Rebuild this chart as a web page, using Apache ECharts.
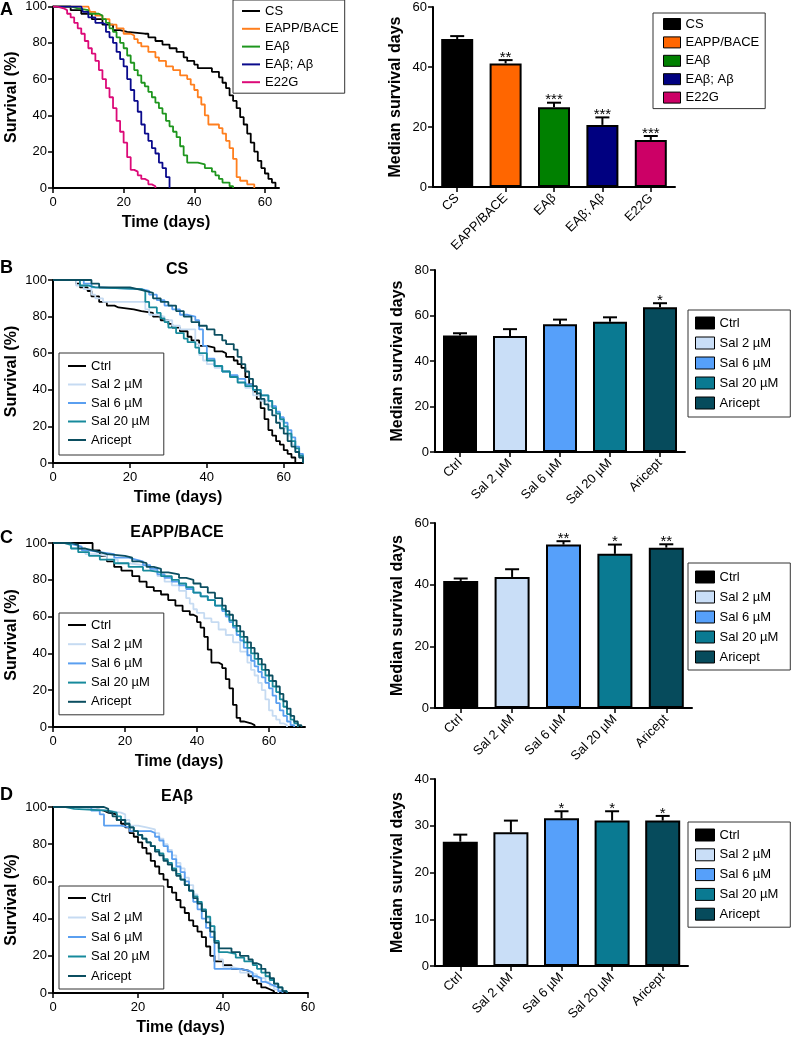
<!DOCTYPE html>
<html><head><meta charset="utf-8">
<script src="https://cdn.jsdelivr.net/npm/echarts@6/dist/echarts.min.js"></script>
<style>html,body{margin:0;padding:0;background:#fff}#c{width:792px;height:1039px}</style>
</head><body><div id="c"></div>
<script>
// ---------- Panel A : survival curves (day, % survival) ----------
const survA_names = ['CS','EAPP/BACE','EAβ','EAβ; Aβ','E22G'];
const survA_CS = [[0,100],[5,98],[8,96],[11,93],[14,90],[17,87],[19,86],[21,85],[26,85],[27,83],[29,81],[31,79],[33,77],[35,75],[37,72],[38,70],[40,68],[41,66],[44,66],[45,64],[47,61],[48,58],[49,55],[50,51],[51,48],[52,44],[53,39],[54,35],[55,30],[56,25],[57,20],[58,15],[59,11],[60,8],[61,5],[62,3],[63,0]];
const survA_EAPP = [[0,100],[10,100],[10.5,97],[12,95],[14,93],[16,90],[18,88],[20,85],[22,84],[23,82],[24,80],[25,78],[27,75],[29,72],[30,70],[32,67],[34,65],[36,62],[38,60],[39,57],[40,54],[41,50],[42,46],[43,40],[44,35],[47,33],[48,30],[49,26],[50,22],[51,16],[52,6],[53,4],[55,2],[57,0]];
const survA_EAb = [[0,100],[5,99],[7,98],[10,96],[13,95],[14,93],[15,91],[16,88],[17,86],[18,83],[19,80],[20,77],[21,73],[22,69],[23,65],[24,62],[25,58],[26,56],[27,53],[28,50],[29,47],[30,44],[31,41],[32,37],[33,34],[34,31],[35,28],[36,23],[37,18],[38,14],[41,13],[43,11],[45,9],[46,7],[47,5],[48,3],[50,1],[51,0]];
const survA_EAbAb = [[0,100],[8,100],[8.5,97],[10,94],[12,91],[14,90],[15,86],[16,83],[17,80],[18,75],[19,71],[20,67],[21,60],[22,54],[23,48],[24,42],[25,35],[26,30],[27,26],[28,22],[29,19],[30,14],[31,11],[32,6],[33,0]];
const survA_E22G = [[0,100],[1,99],[3,98],[4,96],[5,94],[6,91],[7,88],[8,85],[9,81],[10,77],[11,74],[12,70],[13,65],[14,60],[15,55],[16,50],[17,44],[18,37],[19,31],[20,25],[21,17],[22,10],[23,9],[24,7],[25,5],[26,4],[27,2],[28,1],[29,0]];

// ---------- Panel A : median survival bars ----------
const barA_labels = ['CS','EAPP/BACE','EAβ','EAβ; Aβ','E22G'];
const barA_median = [49.3,41.2,26.6,20.7,15.7];
const barA_err = [1.0,1.1,1.5,2.5,1.3];
const barA_stars = ['','**','***','***','***'];

// ---------- Treatment groups (panels B-D) ----------
const trt_names = ['Ctrl','Sal 2 µM','Sal 6 µM','Sal 20 µM','Aricept'];

// Panel B : CS
const survB_Ctrl = [[0,100],[5,100],[6,98],[7,96],[9,94],[10,91],[12,88],[14,86],[16,85],[17,84],[21,83],[23,82],[26,80],[28,78],[30,76],[31,74],[33,72],[35,69],[36,67],[38,64],[40,63],[42,61],[44,60],[45,58],[47,56],[48,54],[49,52],[50,47],[51,43],[52,39],[53,35],[54,30],[55,24],[56,18],[57,15],[58,12],[59,10],[60,7],[61,5],[62,3],[63,0]];
const survB_S2 = [[0,100],[5,100],[6,97],[8,95],[10,92],[11,90],[13,88],[23,88],[24,84],[25,81],[27,80],[29,78],[31,75],[33,73],[36,73],[37,65],[38,59],[39,56],[40,54],[42,52],[44,50],[46,47],[48,44],[50,41],[52,37],[54,34],[56,31],[58,27],[59,23],[60,19],[61,15],[62,10],[63,6],[64,3],[65,0]];
const survB_S6 = [[0,100],[7,100],[8,98],[10,96],[12,95],[23,94],[25,92],[27,89],[29,86],[31,84],[33,81],[35,80],[37,78],[38,73],[39,64],[40,57],[42,53],[44,50],[46,48],[48,46],[50,43],[52,40],[54,37],[56,34],[57,31],[58,28],[59,25],[60,22],[61,18],[62,14],[63,9],[64,5],[65,0]];
const survB_S20 = [[0,100],[5,100],[7,97],[9,96],[11,95],[23,94],[24,88],[25,85],[27,82],[28,79],[29,77],[30,74],[32,71],[34,68],[35,66],[37,63],[38,60],[40,56],[42,53],[44,50],[46,47],[48,44],[50,42],[52,40],[54,37],[56,34],[57,30],[58,27],[59,24],[60,20],[61,16],[62,12],[63,8],[64,4],[65,0]];
const survB_Ari = [[0,100],[8,100],[10,98],[12,96],[20,95],[22,94],[24,93],[26,90],[28,88],[30,86],[32,83],[34,80],[36,77],[38,75],[40,73],[42,70],[44,67],[45,65],[47,62],[48,58],[49,54],[50,50],[51,46],[52,42],[53,38],[54,35],[55,32],[56,29],[57,26],[58,22],[59,19],[60,16],[61,12],[62,9],[63,6],[64,3],[65,0]];
const barB_median = [51.2,51.0,56.2,57.3,63.6];
const barB_err = [1.0,3.0,2.0,1.9,1.8];
const barB_stars = ['','','','','*'];

// Panel C : EAPP/BACE
const survC_Ctrl = [[0,100],[10,100],[11,96],[13,93],[15,90],[17,87],[19,85],[22,82],[24,79],[26,76],[28,74],[30,72],[32,69],[34,66],[36,63],[38,61],[39,60],[40,57],[41,54],[42,49],[43,42],[44,35],[46,34],[47,32],[48,26],[49,21],[50,12],[51,5],[52,3],[53,2],[55,1],[56,0]];
const survC_S2 = [[0,100],[3,99],[5,97],[7,96],[9,94],[12,93],[15,91],[18,89],[21,88],[25,87],[27,85],[29,82],[31,79],[33,77],[35,74],[37,70],[38,67],[39,64],[40,62],[42,59],[44,57],[46,53],[48,50],[50,46],[52,41],[54,35],[55,31],[56,28],[57,24],[58,20],[59,15],[60,9],[61,6],[62,4],[63,2],[64,1],[65,0]];
const survC_S6 = [[0,100],[4,99],[6,98],[8,96],[10,95],[13,94],[17,92],[21,91],[23,90],[25,88],[27,86],[29,83],[31,81],[33,79],[35,77],[37,75],[39,73],[41,71],[43,69],[45,66],[47,63],[48,60],[49,57],[50,54],[51,50],[52,47],[53,43],[54,39],[55,36],[56,33],[57,30],[58,27],[59,24],[60,21],[61,17],[62,13],[63,9],[64,6],[65,3],[66,1],[67,0]];
const survC_S20 = [[0,100],[3,99],[5,97],[7,95],[10,93],[13,91],[17,89],[21,87],[25,85],[27,84],[30,82],[33,80],[35,78],[37,76],[39,73],[41,71],[43,69],[45,66],[47,64],[48,61],[49,58],[50,55],[51,52],[52,49],[53,46],[54,43],[55,40],[56,37],[57,34],[58,31],[59,28],[60,25],[61,22],[62,19],[63,15],[64,11],[65,7],[66,4],[67,2],[68,0]];
const survC_Ari = [[0,100],[5,99],[7,97],[9,96],[11,95],[13,94],[15,93],[20,92],[22,90],[24,89],[26,87],[28,86],[30,84],[32,83],[35,81],[37,80],[39,78],[41,76],[43,73],[45,70],[47,66],[48,63],[49,61],[50,58],[51,55],[52,52],[53,49],[54,46],[55,43],[56,40],[57,37],[58,34],[59,31],[60,28],[61,25],[62,22],[63,18],[64,14],[65,10],[66,6],[67,3],[68,1],[69,0]];
const barC_median = [41.2,42.5,53.0,50.0,52.0];
const barC_err = [0.8,2.5,1.1,3.0,1.1];
const barC_stars = ['','','**','*','**'];

// Panel D : EAβ
const survD_Ctrl = [[0,100],[6,100],[8,99],[10,98],[12,97],[13,96],[15,93],[16,91],[17,89],[18,86],[19,84],[20,81],[21,78],[22,75],[23,71],[24,68],[25,64],[26,61],[27,57],[28,54],[29,50],[30,46],[31,43],[32,39],[33,36],[34,33],[35,30],[36,25],[37,20],[38,17],[40,15],[42,13],[44,12],[46,9],[47,7],[48,5],[49,3],[50,2],[51,1],[52,0]];
const survD_S2 = [[0,100],[5,100],[7,99],[10,98],[13,97],[16,96],[17,93],[18,90],[20,89],[22,88],[24,86],[25,83],[26,80],[27,77],[28,74],[29,70],[30,67],[31,62],[32,58],[33,53],[34,49],[35,44],[36,40],[37,36],[38,28],[39,18],[40,14],[42,13],[44,11],[46,10],[48,8],[50,6],[51,4],[52,2],[53,0]];
const survD_S6 = [[0,100],[8,100],[9,98],[11,96],[12,90],[16,89],[18,87],[23,86],[24,84],[25,82],[26,79],[27,76],[28,72],[29,68],[30,65],[31,60],[32,55],[33,49],[34,45],[35,40],[36,35],[37,30],[38,13],[44,12],[46,11],[47,9],[48,8],[49,6],[50,5],[51,4],[52,3],[53,1],[54,0]];
const survD_S20 = [[0,100],[3,99],[5,98],[13,97],[15,95],[16,93],[17,91],[18,89],[19,87],[20,85],[21,83],[22,81],[23,79],[24,77],[25,75],[26,72],[27,70],[28,67],[29,64],[30,61],[31,58],[32,55],[33,52],[34,49],[35,45],[36,41],[37,36],[38,28],[39,22],[41,21],[43,19],[45,17],[47,15],[48,13],[49,11],[50,9],[51,7],[52,5],[53,3],[54,1],[55,0]];
const survD_Ari = [[0,100],[10,100],[12,99],[13,97],[14,95],[15,93],[17,91],[18,89],[19,87],[20,85],[21,83],[22,81],[23,79],[24,76],[25,74],[26,71],[27,69],[28,66],[29,63],[30,61],[31,58],[32,55],[33,51],[34,48],[35,44],[36,38],[37,33],[38,27],[39,24],[42,22],[44,20],[46,18],[47,16],[48,15],[49,13],[50,11],[51,8],[52,5],[53,3],[54,1],[55,0]];
const barD_median = [26.6,28.6,31.6,31.1,31.1];
const barD_err = [1.5,2.5,1.5,2.0,1.0];
const barD_stars = ['','','*','*','*'];

// axis tick labels
const survX_ticks = [0,20,40,60];

// ---------- styles ----------
const FONT = "'Liberation Sans', Arial, Helvetica, sans-serif";
const colA_line = ['#000000','#ff7f1e','#1e961e','#0a0a8c','#dc0a78'];
const colA_bar  = ['#000000','#ff6600','#008000','#000080','#cc0066'];
const colT_line = ['#000000','#c6dbf2','#5a9ff0','#178a9c','#0b4e60'];
const colT_bar  = ['#000000','#c9def7','#56a0fa','#0a7a92','#064b5c'];

const grids = [
  {left:53, top:6, width:226, height:182},
  {left:433, top:7, width:242, height:180},
  {left:53, top:280, width:250, height:183},
  {left:435, top:270, width:250, height:182},
  {left:53, top:543, width:252, height:184},
  {left:435, top:523, width:257, height:185},
  {left:53, top:807, width:255, height:186},
  {left:435, top:779, width:253, height:187}
];

const xAxes = [], yAxes = [], series = [], legends = [];
const axisLine = {show:true, lineStyle:{color:'#000', width:2}};
const tickStyle = {show:true, length:5, lineStyle:{color:'#000', width:1.5}};
const lblStyle = {color:'#000', fontSize:13, fontFamily:FONT};
const nameStyle = {color:'#000', fontSize:16, fontWeight:'bold', fontFamily:FONT};

function survPanel(gi, prefix, xmax, ticks, names, curves, colors, leg) {
  xAxes.push({type:'value', gridIndex:gi, min:0, max:xmax, interval:20,
    axisLine, axisTick:Object.assign({customValues:ticks}, tickStyle),
    axisLabel:Object.assign({margin:8, customValues:ticks, showMaxLabel:true, showMinLabel:true}, lblStyle),
    splitLine:{show:false}, name:'Time (days)', nameLocation:'middle', nameGap:27, nameTextStyle:nameStyle});
  yAxes.push({type:'value', gridIndex:gi, min:0, max:100, interval:20,
    axisLine, axisTick:tickStyle, axisLabel:Object.assign({margin:6}, lblStyle),
    splitLine:{show:false}, name:'Survival (%)', nameLocation:'middle', nameGap:33, nameTextStyle:nameStyle});
  names.forEach((n,k) => {
    series.push({name:prefix+'|'+n, type:'line', xAxisIndex:gi, yAxisIndex:gi, step:'end',
      symbol:'none', showSymbol:false, data:curves[k], silent:true, z:2+k,
      lineStyle:{color:colors[k], width:1.8}, itemStyle:{color:colors[k]}});
  });
  legends.push({orient:'vertical', left:leg.left, top:leg.top, itemWidth:18, itemHeight:2, itemGap:leg.gap,
    icon:'rect', padding:leg.pad, borderColor:'#333', borderWidth:1, selectedMode:false,
    textStyle:{color:'#000', fontSize:13, fontFamily:FONT, lineHeight:14},
    formatter: s => s.split('|')[1], data: names.map(n => prefix+'|'+n)});
}

function barPanel(gi, prefix, labels, med, err, stars, ymax, yint, colors, bw, leg) {
  xAxes.push({type:'category', gridIndex:gi, data:labels, axisLine,
    axisTick:Object.assign({alignWithLabel:true}, tickStyle),
    axisLabel:Object.assign({rotate:45, interval:0, margin:9}, lblStyle), splitLine:{show:false}});
  yAxes.push({type:'value', gridIndex:gi, min:0, max:ymax, interval:yint, axisLine, axisTick:tickStyle,
    axisLabel:Object.assign({margin:6}, lblStyle), splitLine:{show:false},
    name:'Median survival days', nameLocation:'middle', nameGap:29, nameTextStyle:nameStyle});
  labels.forEach((lab,i) => {
    series.push({name:prefix+'|'+lab, type:'bar', xAxisIndex:gi, yAxisIndex:gi, barWidth:bw, barGap:'-100%',
      data: labels.map((_,j) => j===i ? med[i] : '-'), silent:true,
      itemStyle:{color:colors[i], borderColor:'#000', borderWidth:2}});
  });
  series.push({type:'custom', xAxisIndex:gi, yAxisIndex:gi, silent:true, z:5,
    data: med.map((m,i) => [i, m, m+err[i]]), encode:{x:0, y:[1,2]},
    renderItem: (params, api) => {
      const p0 = api.coord([api.value(0), api.value(1)]);
      const p1 = api.coord([api.value(0), api.value(2)]);
      const ch = [
        {type:'line', shape:{x1:p0[0], y1:p0[1], x2:p1[0], y2:p1[1]}, style:{stroke:'#000', lineWidth:2}},
        {type:'line', shape:{x1:p1[0]-7, y1:p1[1], x2:p1[0]+7, y2:p1[1]}, style:{stroke:'#000', lineWidth:2}}
      ];
      const st = stars[params.dataIndex];
      if (st) ch.push({type:'text', style:{text:st, x:p1[0], y:p1[1]+5, align:'center', verticalAlign:'bottom',
        fontSize:15, fontFamily:FONT, fill:'#000'}});
      return {type:'group', children:ch};
    }});
  legends.push({orient:'vertical', left:leg.left, top:leg.top, itemWidth:leg.iw, itemHeight:leg.ih, itemGap:leg.gap,
    padding:leg.pad, borderColor:'#333', borderWidth:1, selectedMode:false, icon:'rect',
    itemStyle:{borderWidth:1, borderColor:'#000'},
    textStyle:{color:'#000', fontSize:13, fontFamily:FONT, lineHeight:14},
    formatter: s => s.split('|')[1], data: labels.map(n => prefix+'|'+n)});
}

survPanel(0, 'AL', 64, survX_ticks, survA_names, [survA_CS, survA_EAPP, survA_EAb, survA_EAbAb, survA_E22G], colA_line,
  {left:233, top:0, gap:3.8, pad:[4,6,4,9]});
barPanel(1, 'AR', barA_labels, barA_median, barA_err, barA_stars, 60, 20, colA_bar, 32,
  {left:653, top:13, iw:17, ih:11, gap:4.4, pad:[4,6,4,10]});
survPanel(2, 'BL', 65, survX_ticks, trt_names, [survB_Ctrl, survB_S2, survB_S6, survB_S20, survB_Ari], colT_line,
  {left:59, top:353, gap:4.5, pad:[6,14,8,9]});
barPanel(3, 'BR', trt_names, barB_median, barB_err, barB_stars, 80, 20, colT_bar, 34,
  {left:688, top:310, iw:19, ih:12, gap:6, pad:[6,12,7,7]});
survPanel(4, 'CL', 70, survX_ticks, trt_names, [survC_Ctrl, survC_S2, survC_S6, survC_S20, survC_Ari], colT_line,
  {left:59, top:613, gap:5.2, pad:[5,14,6,9]});
barPanel(5, 'CR', trt_names, barC_median, barC_err, barC_stars, 60, 20, colT_bar, 35,
  {left:688, top:563, iw:19, ih:12, gap:6, pad:[7,12,6,7]});
survPanel(6, 'DL', 60, survX_ticks, trt_names, [survD_Ctrl, survD_S2, survD_S6, survD_S20, survD_Ari], colT_line,
  {left:59, top:886, gap:5.5, pad:[5,14,6,9]});
barPanel(7, 'DR', trt_names, barD_median, barD_err, barD_stars, 40, 10, colT_bar, 35,
  {left:688, top:822, iw:19, ih:12, gap:5.8, pad:[6,12,6,7]});

function txt(t, x, y, size, align) {
  return {type:'text', silent:true, style:{text:t, x, y, align:align||'center', verticalAlign:'middle',
    fontSize:size, fontWeight:'bold', fontFamily:FONT, fill:'#000'}};
}
const graphics = [
  txt('A', 0, 10, 18, 'left'), txt('B', 0, 268, 18, 'left'), txt('C', 0, 538, 18, 'left'), txt('D', 0, 795, 18, 'left'),
  txt('CS', 177, 270, 16), txt('EAPP/BACE', 177, 533, 16), txt('EAβ', 177, 797, 16)
];

const chart = echarts.init(document.getElementById('c'), null, {renderer:'canvas'});
chart.setOption({
  animation:false, backgroundColor:'#fff',
  grid:grids.map(g => Object.assign({containLabel:false}, g)),
  xAxis:xAxes, yAxis:yAxes, series, legend:legends, graphic:graphics
});
</script></body></html>
